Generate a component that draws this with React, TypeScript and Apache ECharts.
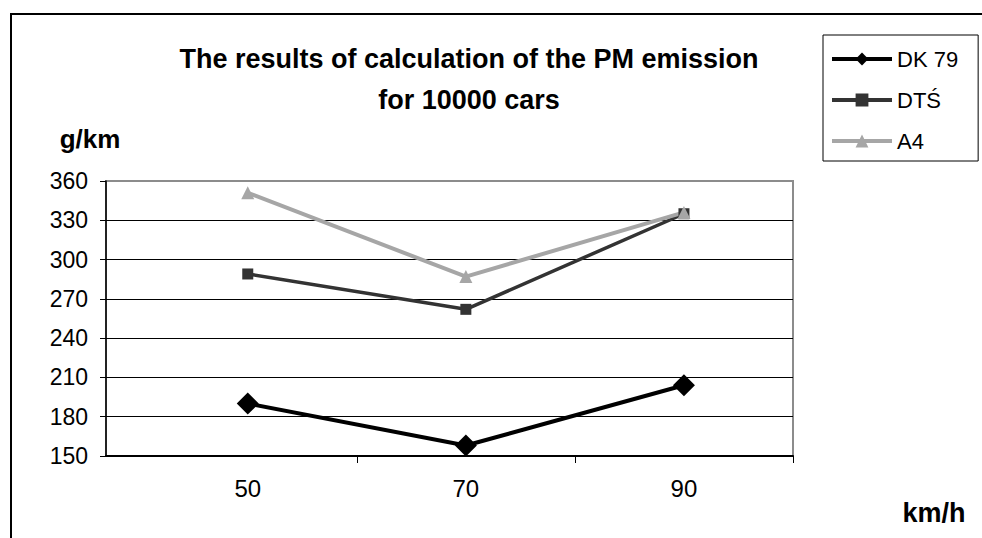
import React, { useEffect, useRef } from 'react';
import * as echarts from 'echarts';

const speeds = [50, 70, 90];
const dk79 = [190, 158, 204];
const dts = [289, 262, 335];
const a4 = [351, 287, 336];
const seriesNames = ['DK 79', 'DTŚ', 'A4'];
const titleLines = ['The results of calculation of the PM emission', 'for 10000 cars'];
const yUnit = 'g/km';
const xUnit = 'km/h';
const xTickValues = [60, 80, 100];

const FONT = "'Liberation Sans', Arial, Helvetica, sans-serif";

export default function App() {
  const ref = useRef<HTMLDivElement>(null);

  useEffect(() => {
    if (!ref.current) return;
    const chart = echarts.init(ref.current, undefined, { renderer: 'svg' });
    const toPairs = (vals: number[]) => speeds.map((s, i) => [s, vals[i]]);

    const option: any = {
      animation: false,
      backgroundColor: '#fff',
      textStyle: { fontFamily: FONT },
      grid: {
        left: 106,
        top: 181,
        right: 189,
        bottom: 82,
        show: true,
        borderColor: '#8c8c8c',
        borderWidth: 2,
        backgroundColor: '#fff',
        containLabel: false,
        outerBoundsMode: 'none',
      },
      legend: {
        orient: 'vertical',
        left: 823,
        top: 35,
        itemWidth: 60,
        itemHeight: 16,
        itemGap: 19,
        padding: [13, 20, 9, 7],
        borderColor: '#000',
        borderWidth: 1,
        backgroundColor: '#fff',
        textStyle: { fontSize: 22, color: '#000', fontFamily: FONT },
        data: [
          { name: seriesNames[0], lineStyle: { width: 4 } },
          { name: seriesNames[1], lineStyle: { width: 4 } },
          { name: seriesNames[2], lineStyle: { width: 4 } },
        ],
      },
      xAxis: {
        type: 'value',
        min: 37,
        max: 100,
        axisLine: { show: true, lineStyle: { color: '#000', width: 2 } },
        axisTick: {
          show: true,
          length: 7,
          customValues: xTickValues,
          lineStyle: { color: '#000', width: 1 },
        },
        axisLabel: {
          customValues: speeds,
          margin: 20,
          fontSize: 24,
          color: '#000',
          fontFamily: FONT,
        },
        splitLine: { show: false },
      },
      yAxis: {
        type: 'value',
        min: 150,
        max: 360,
        interval: 30,
        axisLine: { show: true, lineStyle: { color: '#000', width: 1.5 } },
        axisTick: { show: true, length: 6, lineStyle: { color: '#000', width: 1 } },
        axisLabel: { margin: 18, fontSize: 23, color: '#000', fontFamily: FONT },
        splitLine: {
          show: true,
          lineStyle: {
            color: ['#000', '#000', '#000', '#000', '#000', '#000', '#000', '#8c8c8c'],
            width: 1,
          },
        },
      },
      series: [
        {
          name: seriesNames[0],
          type: 'line',
          data: toPairs(dk79),
          symbol: 'diamond',
          symbolSize: 22,
          lineStyle: { color: '#000', width: 4 },
          itemStyle: { color: '#000' },
        },
        {
          name: seriesNames[1],
          type: 'line',
          data: toPairs(dts),
          symbol: 'rect',
          symbolSize: 11,
          lineStyle: { color: '#333', width: 3.5 },
          itemStyle: { color: '#333' },
        },
        {
          name: seriesNames[2],
          type: 'line',
          data: toPairs(a4),
          symbol: 'triangle',
          symbolSize: 13,
          lineStyle: { color: '#a6a6a6', width: 4 },
          itemStyle: { color: '#a6a6a6' },
        },
      ],
      graphic: [
        {
          type: 'rect',
          silent: true,
          z: -10,
          shape: { x: 11, y: 14, width: 1000, height: 600 },
          style: { fill: 'none', stroke: '#000', lineWidth: 2 },
        },
        {
          type: 'text',
          x: 469,
          y: 58.5,
          style: {
            text: titleLines[0],
            font: `bold 27px ${FONT}`,
            fill: '#000',
            align: 'center',
            verticalAlign: 'middle',
          },
        },
        {
          type: 'text',
          x: 469,
          y: 99.5,
          style: {
            text: titleLines[1],
            font: `bold 27px ${FONT}`,
            fill: '#000',
            align: 'center',
            verticalAlign: 'middle',
          },
        },
        {
          type: 'text',
          x: 90,
          y: 139,
          style: {
            text: yUnit,
            font: `bold 26px ${FONT}`,
            fill: '#000',
            align: 'center',
            verticalAlign: 'middle',
          },
        },
        {
          type: 'text',
          x: 934,
          y: 513,
          style: {
            text: xUnit,
            font: `bold 27px ${FONT}`,
            fill: '#000',
            align: 'center',
            verticalAlign: 'middle',
          },
        },
      ],
    };

    chart.setOption(option);
    return () => chart.dispose();
  }, []);

  return (
    <div
      ref={ref}
      style={{ position: 'fixed', left: 0, top: 0, width: 982, height: 538, background: '#fff' }}
    />
  );
}
